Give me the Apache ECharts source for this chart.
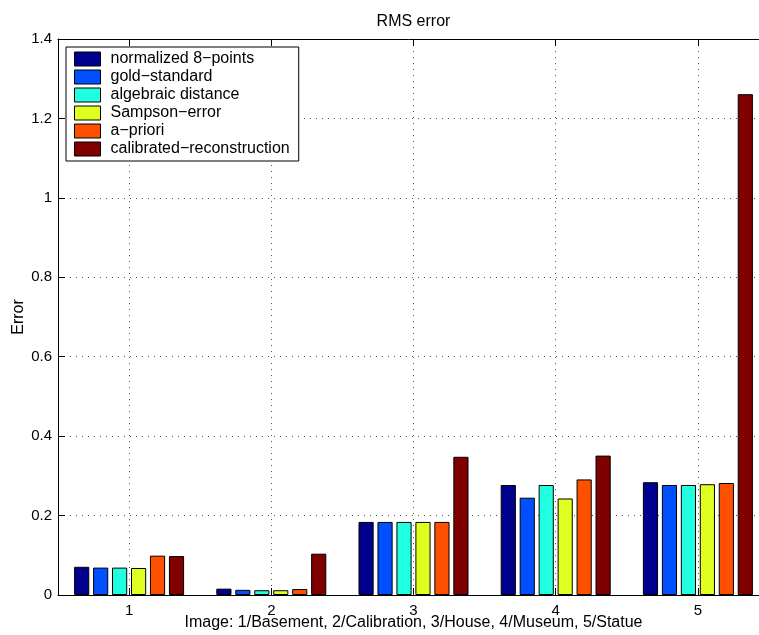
<!DOCTYPE html>
<html>
<head>
<meta charset="utf-8">
<title>RMS error</title>
<script src="https://cdn.jsdelivr.net/npm/echarts@6/dist/echarts.min.js"></script>
<style>
  html, body { margin: 0; padding: 0; background: #fff; }
  #chart { width: 759px; height: 635px; }
</style>
</head>
<body>
<div id="chart"></div>
<script>
// Image indices on the x axis
const categories = ['1', '2', '3', '4', '5'];

// RMS error per method and image
const seriesNames = [
  'normalized 8−points',
  'gold−standard',
  'algebraic distance',
  'Sampson−error',
  'a−priori',
  'calibrated−reconstruction'
];
const normalized8 = [0.071, 0.016, 0.184, 0.277, 0.284];
const goldStandard = [0.069, 0.013, 0.184, 0.245, 0.277];
const algebraic = [0.069, 0.012, 0.184, 0.277, 0.277];
const sampson = [0.068, 0.012, 0.184, 0.243, 0.279];
const aPriori = [0.099, 0.015, 0.184, 0.291, 0.282];
const calibrated = [0.098, 0.104, 0.348, 0.351, 1.261];

const yTicks = { min: 0, max: 1.4, interval: 0.2 };

// jet colormap samples, one per method
const colors = ['#00008F', '#0050FF', '#20FFDF', '#DFFF20', '#FF5000', '#800000'];

const values = [normalized8, goldStandard, algebraic, sampson, aPriori, calibrated];

const FONT = 'Liberation Sans, Arial, Helvetica, sans-serif';
const dotted = { color: '#555', width: 1, type: [1, 5] };

const chart = echarts.init(document.getElementById('chart'), null, { renderer: 'canvas' });

chart.setOption({
  animation: false,
  backgroundColor: '#fff',
  textStyle: { fontFamily: FONT, color: '#000' },
  title: {
    text: 'RMS error',
    left: 413.5,
    top: 14,
    textAlign: 'center',
    padding: 0,
    textStyle: { fontFamily: FONT, fontSize: 16, fontWeight: 'normal', color: '#000' }
  },
  legend: {
    orient: 'vertical',
    left: 66,
    top: 47,
    padding: [4, 9, 4, 8],
    itemWidth: 26,
    itemHeight: 14,
    itemGap: 2,
    backgroundColor: '#fff',
    borderColor: '#000',
    borderWidth: 1,
    borderRadius: 0,
    icon: 'rect',
    itemStyle: { borderColor: '#000', borderWidth: 1 },
    textStyle: { fontFamily: FONT, fontSize: 16, lineHeight: 16, color: '#000', padding: [0, 0, 0, 5] },
    data: seriesNames
  },
  // the plot box runs a little past the right edge of the canvas
  grid: {
    left: 58, top: 39, width: 711, height: 556,
    containLabel: false,
    outerBoundsMode: 'none'
  },
  xAxis: [
    {
      type: 'category',
      data: categories,
      position: 'bottom',
      boundaryGap: true,
      name: 'Image: 1/Basement, 2/Calibration, 3/House, 4/Museum, 5/Statue',
      nameLocation: 'middle',
      nameGap: 20,
      nameMoveOverlap: false,
      nameTextStyle: { fontFamily: FONT, fontSize: 16, color: '#000' },
      axisLine: { show: true, lineStyle: { color: '#000', width: 1 } },
      axisTick: { show: true, inside: true, length: 7, alignWithLabel: true, lineStyle: { color: '#000' } },
      axisLabel: { fontFamily: FONT, fontSize: 15, color: '#000', margin: 8 },
      splitLine: { show: true, alignWithLabel: true, lineStyle: dotted }
    },
    {
      type: 'category',
      data: categories,
      position: 'top',
      boundaryGap: true,
      axisLine: { show: true, lineStyle: { color: '#000', width: 1 } },
      axisTick: { show: true, inside: true, length: 7, alignWithLabel: true, lineStyle: { color: '#000' } },
      axisLabel: { show: false },
      splitLine: { show: false }
    }
  ],
  yAxis: {
    type: 'value',
    min: yTicks.min,
    max: yTicks.max,
    interval: yTicks.interval,
    name: 'Error',
    nameLocation: 'middle',
    nameGap: 31,
    nameMoveOverlap: false,
    nameTextStyle: { fontFamily: FONT, fontSize: 16, color: '#000' },
    axisLine: { show: true, lineStyle: { color: '#000', width: 1 } },
    axisTick: { show: true, inside: true, length: 7, lineStyle: { color: '#000' } },
    axisLabel: { fontFamily: FONT, fontSize: 15, color: '#000', margin: 6 },
    splitLine: { show: true, lineStyle: dotted }
  },
  series: seriesNames.map((name, i) => ({
    name: name,
    type: 'bar',
    xAxisIndex: 0,
    data: values[i],
    barWidth: '10.67%',
    barGap: '25%',
    itemStyle: { color: colors[i], borderColor: '#000', borderWidth: 1 },
    emphasis: { disabled: true }
  }))
});
</script>
</body>
</html>
